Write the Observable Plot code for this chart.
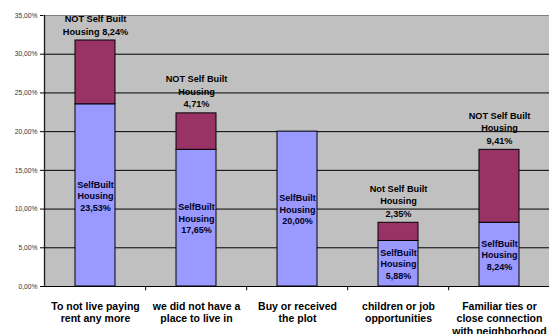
<!DOCTYPE html>
<html><head><meta charset="utf-8">
<script src="https://cdn.jsdelivr.net/npm/d3@7"></script>
<script src="https://cdn.jsdelivr.net/npm/@observablehq/plot@0.6"></script>
<style>body{margin:0;background:#fff}</style>
</head><body><div id="chart"></div>
<script>
const categories = [
  "To not live paying\nrent any more",
  "we did not have a\nplace to live in",
  "Buy or received\nthe plot",
  "children or job\nopportunities",
  "Familiar ties or\nclose connection\nwith neighborhood"
];
const selfBuilt = [23.53, 17.65, 20.00, 5.88, 8.24];
const notSelfBuilt = [8.24, 4.71, 0, 2.35, 9.41];
const selfBuiltPrefix = "SelfBuilt\nHousing\n";
const notSelfBuiltPrefix = ["NOT Self Built\nHousing ", "NOT Self Built\nHousing\n", null, "Not Self Built\nHousing\n", "NOT Self Built\nHousing\n"];
const yTicks = [0, 5, 10, 15, 20, 25, 30, 35];

const fmt = v => v.toFixed(2).replace(".", ",") + "%";

const selfRows = categories.map((c, i) => ({cat: c, y1: 0, y2: selfBuilt[i], label: selfBuiltPrefix + fmt(selfBuilt[i])}));
const notRows = categories.map((c, i) => ({cat: c, y1: selfBuilt[i], y2: selfBuilt[i] + notSelfBuilt[i], label: notSelfBuiltPrefix[i] ? notSelfBuiltPrefix[i] + fmt(notSelfBuilt[i]) : null}))
  .filter(d => d.y2 > d.y1);

const x0 = 43.3, x1 = 551.7;
const step = (x1 - x0) / categories.length;

const chart = Plot.plot({
  width: 549,
  height: 334,
  marginLeft: 43,
  marginRight: 0,
  marginTop: 15,
  marginBottom: 48,
  style: {fontFamily: "'Liberation Sans', Arial, sans-serif", background: "white", overflow: "hidden"},
  x: {type: "band", domain: categories, range: [x0, x1], paddingInner: 0.6, paddingOuter: 0.3, axis: null},
  y: {domain: [0, 35], axis: null},
  marks: [
    Plot.frame({fill: "#c0c0c0", stroke: null}),
    Plot.ruleY(yTicks.filter(t => t > 0 && t < 35), {stroke: "black", strokeWidth: 1}),
    Plot.ruleY([35], {stroke: "#808080"}),
    Plot.barY(selfRows, {x: "cat", y1: "y1", y2: "y2", fill: "#9999ff", stroke: "black", strokeWidth: 1}),
    Plot.barY(notRows, {x: "cat", y1: "y1", y2: "y2", fill: "#993366", stroke: "black", strokeWidth: 1}),
    Plot.ruleY([0], {stroke: "black"}),
    Plot.ruleX([categories[0]], {x: d => d, y1: 0, y2: 35, dx: -step / 2, stroke: "black"}),
    Plot.ruleX(categories.slice(1), {x: d => d, y1: 0, y2: -0.55, dx: -step / 2, stroke: "black"}),
    Plot.axisY({ticks: yTicks, tickFormat: fmt, tickSize: 3, tickPadding: 3, fontSize: 6.7, stroke: "black", fill: "#333"}),
    Plot.text(categories, {x: d => d, y: 0, text: d => d, lineAnchor: "top", dy: 14, fontSize: 10.5, fontWeight: "bold", lineHeight: 1.22, fill: "black"}),
    Plot.text(selfRows, {x: "cat", y: d => d.y2 / 2, text: "label", fontSize: 9, fontWeight: "bold", lineHeight: 1.28, fill: "#000022"}),
    Plot.text(notRows.filter(d => d.label), {x: "cat", y: "y2", text: "label", lineAnchor: "bottom", dy: -6, fontSize: 9.2, fontWeight: "bold", lineHeight: 1.36, fill: "black"})
  ]
});
document.getElementById("chart").appendChild(chart);
</script>
</body></html>
